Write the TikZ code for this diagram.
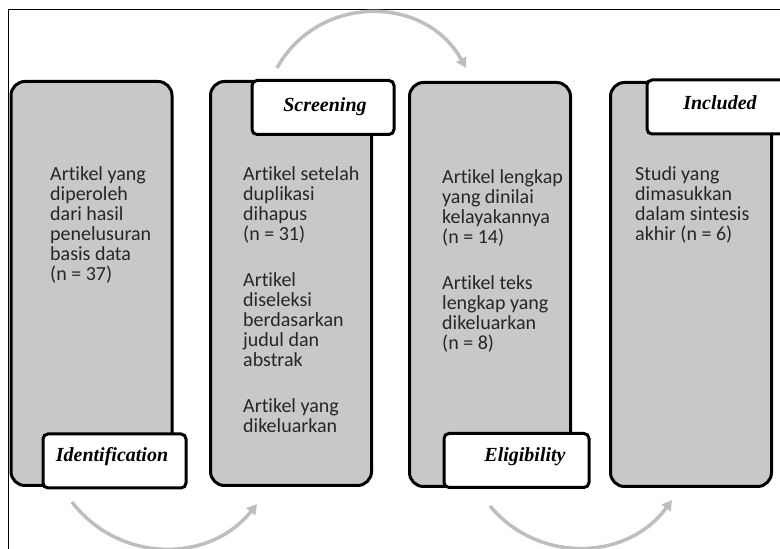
\documentclass[tikz,border=0pt]{standalone}
\usepackage{fontspec}
\setmainfont{Carlito}[Ligatures=CommonOff]
\newfontfamily\labfont{Liberation Serif}
\usetikzlibrary{arrows.meta}
\definecolor{boxgray}{HTML}{C8C8C8}
\definecolor{arcgray}{HTML}{BEBEBE}
\begin{document}
\begin{tikzpicture}[x=1pt,y=1pt,
  stage/.style={draw=black,line width=3pt,fill=boxgray,rounded corners=14pt,inner sep=0pt,minimum width=161pt,minimum height=404pt},
  tag/.style={draw=black,line width=3pt,fill=white,rounded corners=5pt,inner sep=0pt,minimum height=54pt},
  tagtext/.style={font=\labfont\bfseries\itshape\fontsize{20}{24}\selectfont,inner sep=0pt},
  body/.style={font=\fontsize{20}{20}\selectfont,align=left,anchor=north west,inner sep=0pt,text=black!85},
  flow/.style={draw=arcgray,line width=3.5pt,-{Triangle[length=10pt,width=11pt]}}
]
\useasboundingbox (0,0) rectangle (780,549);
\clip (0,0) rectangle (780,549);
\coordinate (fa) at (8,0);
\coordinate (fb) at (8,539);
\coordinate (fc) at (781,539);
\draw[line width=1pt] (fa) -- (fb) -- (fc);

% stage boxes
\node[stage] (b1) at (91.5,265.5) {};
\node[stage] (b2) at (291,265.5) {};
\node[stage] (b3) at (490,264.5) {};
\node[stage] (b4) at (691,264.5) {};

% tags
\node[tag,minimum width=142pt] (tscr) at (323,441.5) {};
\node[tag,minimum width=150pt] (tinc) at (722,442) {};
\node[tag,minimum width=143pt] (tide) at (114.5,88) {};
\node[tag,minimum width=145pt] (teli) at (516.5,88.5) {};
\node[tagtext] (lscr) at (325,442) {Screening};
\node[tagtext] (linc) at (720,446) {Included};
\node[tagtext] (lide) at (112,92) {Identification};
\node[tagtext] (leli) at (525,92) {Eligibility};

% body texts
\node[body] (x1) at (50,383) {Artikel yang\\diperoleh\\dari hasil\\penelusuran\\basis data\\(n = 37)};
\node[body] (x2) at (243,383) {Artikel setelah\\duplikasi\\dihapus\\(n = 31)\\[26pt]Artikel\\diseleksi\\berdasarkan\\judul dan\\abstrak\\[26pt]Artikel yang\\dikeluarkan};
\node[body] (x3) at (442,380) {Artikel lengkap\\yang dinilai\\kelayakannya\\(n = 14)\\[26pt]Artikel teks\\lengkap yang\\dikeluarkan\\(n = 8)};
\node[body] (x4) at (635,383) {Studi yang\\dimasukkan\\dalam sintesis\\akhir (n = 6)};

% flow arcs
\coordinate (a1) at (277,481);
\coordinate (a2) at (466,481);
\coordinate (c1) at (72,47);
\coordinate (c2) at (257,45);
\coordinate (d1) at (490,43);
\coordinate (d2) at (672,49);
\draw[flow] (a1) to[bend left=61,looseness=1.15] (a2);
\draw[flow] (c1) to[bend right=52,looseness=1.06] (c2);
\draw[flow] (d1) to[bend right=52,looseness=1.06] (d2);
\end{tikzpicture}
\end{document}
